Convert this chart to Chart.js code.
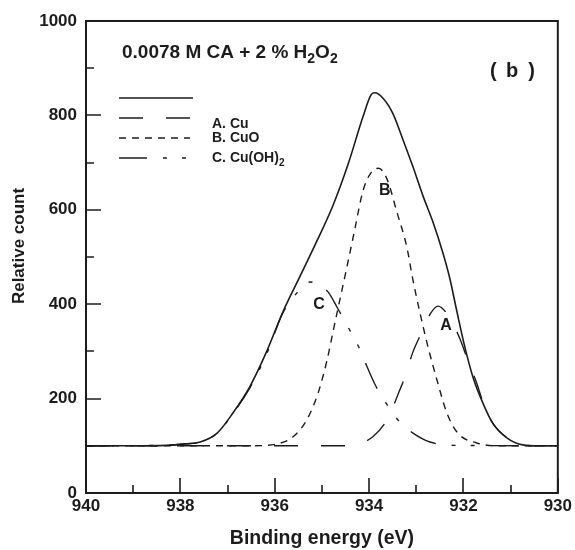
<!DOCTYPE html>
<html>
<head>
<meta charset="utf-8">
<script src="https://cdn.jsdelivr.net/npm/chart.js@4.4.1/dist/chart.umd.min.js"></script>
<style>
  html, body { margin: 0; padding: 0; background: #fff; }
  canvas { display: block; }
</style>
</head>
<body>
<canvas id="xps" width="575" height="550"></canvas>
<script>
// Cu 2p3/2 fit: measured envelope plus three fitted components

// envelope (solid)
const envelopeEnergy = [940.0, 939.0, 938.3, 937.9, 937.58, 937.22, 936.89, 936.53, 936.17, 935.83,
    935.47, 935.11, 934.77, 934.44, 934.13, 933.95, 933.88, 933.71, 933.5, 933.28,
    933.07, 932.86, 932.65, 932.44, 932.29, 932.14, 931.97, 931.8, 931.59, 931.38,
    931.08, 930.74, 930.4, 930.0];
const envelopeCount = [100, 100, 101, 104, 108, 127, 169, 225, 300, 383,
    458, 533, 608, 698, 797, 845, 848, 837, 805, 748,
    691, 630, 575, 510, 455, 385, 309, 246, 191, 148,
    117, 102, 100, 100];

// A. Cu
const cuEnergy = [940.0, 934.41, 934.2, 933.92, 933.62, 933.35, 933.24, 933.07, 932.88, 932.7,
    932.54, 932.33, 932.08, 931.91, 931.72, 931.59, 931.38, 931.08, 930.74, 930.4, 930.0];
const cuCount = [100, 100, 105, 119, 155, 218, 246, 299, 341, 380,
    396, 377, 328, 282, 233, 194, 148, 117, 102, 100, 100];

// B. CuO
const cuoEnergy = [940.0, 936.5, 935.95, 935.61, 935.32, 935.08, 934.89, 934.77, 934.62, 934.47,
    934.3, 934.13, 933.95, 933.8, 933.62, 933.41, 933.2, 933.07, 932.92, 932.75,
    932.56, 932.35, 932.12, 931.72, 931.23, 930.0];
const cuoCount = [100, 100, 104, 119, 155, 212, 282, 339, 409, 479,
    560, 640, 680, 688, 665, 595, 521, 451, 381, 309,
    239, 169, 127, 106, 100, 100];

// C. Cu(OH)2
const hydroxideEnergy = [940.0, 938.3, 937.9, 937.58, 937.22, 936.89, 936.53, 936.17, 935.83, 935.53,
    935.25, 935.05, 934.87, 934.67, 934.47, 934.19, 934.05, 933.88, 933.67, 933.35,
    933.07, 932.71, 932.2, 930.0];
const hydroxideCount = [100, 101, 104, 108, 127, 168, 222, 295, 381, 424,
    447, 440, 426, 392, 356, 303, 269, 231, 195, 150,
    127, 108, 101, 100];

// axis ticks
const energyTicks = [940, 938, 936, 934, 932, 930];
const countTicks = [0, 200, 400, 600, 800, 1000];

const legendLabels = ['', 'A. Cu', 'B. CuO', 'C. Cu(OH)|2'];
const peakLabels = ['A', 'B', 'C'];
const peakLabelAt = [[932.37, 354], [933.67, 640], [935.06, 400]];

const INK = '#1c1c1c';
const FONT = '"Liberation Sans", Arial, Helvetica, sans-serif';

function toPoints(xs, ys) {
    return xs.map((x, i) => ({ x: x, y: ys[i] }));
}

// text where "|" switches the next character to a subscript
function drawRich(ctx, text, x, y, size) {
    const parts = text.split('|');
    parts.forEach((part, i) => {
        let main = part, sub = '';
        if (i > 0) { sub = part.charAt(0); main = part.slice(1); }
        if (sub) {
            ctx.font = `bold ${Math.round(size * 0.72)}px ${FONT}`;
            ctx.fillText(sub, x, y + size * 0.28);
            x += ctx.measureText(sub).width;
        }
        ctx.font = `bold ${size}px ${FONT}`;
        ctx.fillText(main, x, y);
        x += ctx.measureText(main).width;
    });
}

const frameAndNotes = {
    id: 'frameAndNotes',
    afterDatasetsDraw(chart) {
        const { ctx, chartArea: a, scales: { x, y } } = chart;
        ctx.save();
        ctx.strokeStyle = INK;
        ctx.fillStyle = INK;

        // box
        ctx.lineWidth = 2;
        ctx.strokeRect(a.left, a.top, a.right - a.left, a.bottom - a.top);

        // inward ticks, long on labelled values
        ctx.lineWidth = 1.6;
        ctx.beginPath();
        y.ticks.forEach(t => {
            const py = Math.round(y.getPixelForValue(t.value));
            const len = t.value % 200 === 0 ? 15 : 8;
            ctx.moveTo(a.left, py);
            ctx.lineTo(a.left + len, py);
        });
        x.ticks.forEach(t => {
            const px = Math.round(x.getPixelForValue(t.value));
            const len = t.value % 2 === 0 ? 15 : 8;
            ctx.moveTo(px, a.bottom);
            ctx.lineTo(px, a.bottom - len);
        });
        ctx.stroke();

        // y axis title, a little above the middle of the axis
        ctx.save();
        ctx.translate(19, a.top + 225);
        ctx.rotate(-Math.PI / 2);
        ctx.font = `bold 17px ${FONT}`;
        ctx.textAlign = 'center';
        ctx.textBaseline = 'middle';
        ctx.fillText('Relative count', 0, 0);
        ctx.restore();

        // title and panel tag
        ctx.textBaseline = 'alphabetic';
        ctx.textAlign = 'left';
        drawRich(ctx, '0.0078 M CA + 2 % H|2O|2', a.left + 36, a.top + 37, 19);
        ctx.font = `bold 20px ${FONT}`;
        ctx.fillText('(', a.left + 404, a.top + 56);
        ctx.textAlign = 'center';
        ctx.fillText('b', a.left + 426, a.top + 56);
        ctx.textAlign = 'right';
        ctx.fillText(')', a.left + 449, a.top + 56);

        // legend
        ctx.textAlign = 'left';
        const rows = [77, 97, 117, 137];
        const textRows = [0, 107, 121, 141];
        chart.data.datasets.forEach((ds, i) => {
            const ly = a.top + rows[i];
            ctx.save();
            ctx.lineWidth = ds.borderWidth;
            ctx.setLineDash(ds.borderDash || []);
            ctx.beginPath();
            ctx.moveTo(a.left + 33, ly);
            ctx.lineTo(a.left + (i === 0 ? 107 : 104), ly);
            ctx.stroke();
            ctx.restore();
            if (legendLabels[i]) {
                drawRich(ctx, legendLabels[i], a.left + 126, a.top + textRows[i], 14);
            }
        });

        // component tags
        ctx.font = `bold 16px ${FONT}`;
        ctx.textAlign = 'center';
        ctx.textBaseline = 'middle';
        peakLabels.forEach((label, i) => {
            const [e, c] = peakLabelAt[i];
            ctx.fillText(label, x.getPixelForValue(e), y.getPixelForValue(c));
        });
        ctx.restore();
    }
};

const lineStyle = {
    borderColor: INK,
    borderWidth: 1.4,
    pointRadius: 0,
    fill: false,
    cubicInterpolationMode: 'monotone'
};

new Chart(document.getElementById('xps'), {
    type: 'line',
    data: {
        datasets: [
            { ...lineStyle, label: 'Envelope', data: toPoints(envelopeEnergy, envelopeCount), borderWidth: 1.6 },
            { ...lineStyle, label: 'A. Cu', data: toPoints(cuEnergy, cuCount), borderDash: [24, 23] },
            { ...lineStyle, label: 'B. CuO', data: toPoints(cuoEnergy, cuoCount), borderDash: [7, 6] },
            { ...lineStyle, label: 'C. Cu(OH)2', data: toPoints(hydroxideEnergy, hydroxideCount), borderDash: [28, 16, 4, 15, 4, 16] }
        ]
    },
    options: {
        responsive: false,
        animation: false,
        devicePixelRatio: 1,
        layout: { padding: { top: 21, right: 17, left: 0, bottom: 0 } },
        scales: {
            x: {
                type: 'linear',
                reverse: true,
                min: 930,
                max: 940,
                afterFit: s => { s.height = 57; },
                grid: { display: false, drawTicks: false },
                border: { display: false },
                ticks: {
                    stepSize: 1,
                    autoSkip: false,
                    maxRotation: 0,
                    padding: 3,
                    color: INK,
                    font: { family: FONT, size: 17, weight: 'bold' },
                    callback: v => energyTicks.includes(v) ? String(v) : ''
                },
                title: {
                    display: true,
                    text: 'Binding energy (eV)',
                    color: INK,
                    padding: { top: 2, bottom: 0 },
                    font: { family: FONT, size: 19.5, weight: 'bold' }
                }
            },
            y: {
                min: 0,
                max: 1000,
                afterFit: s => { s.width = 86; },
                grid: { display: false, drawTicks: false },
                border: { display: false },
                ticks: {
                    stepSize: 100,
                    autoSkip: false,
                    padding: 9,
                    color: INK,
                    font: { family: FONT, size: 17, weight: 'bold' },
                    callback: v => countTicks.includes(v) ? String(v) : ''
                },
                title: { display: false }
            }
        },
        plugins: {
            legend: { display: false },
            tooltip: { enabled: false }
        }
    },
    plugins: [frameAndNotes]
});
</script>
</body>
</html>
